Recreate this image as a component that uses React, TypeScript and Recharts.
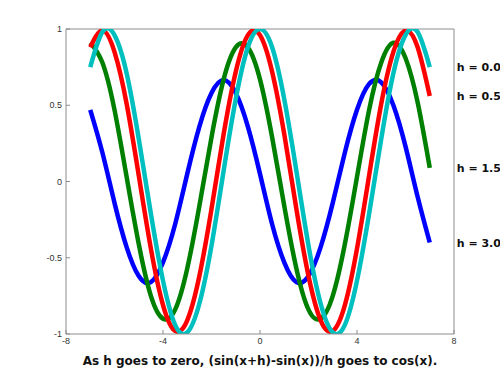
import { LineChart, Line, XAxis, YAxis, ReferenceLine } from "recharts";

const xs = [
  -7, -6.5, -6, -5.5, -5, -4.5, -4, -3.5, -3, -2.5, -2, -1.5, -1, -0.5, 0,
  0.5, 1, 1.5, 2, 2.5, 3, 3.5, 4, 4.5, 5, 5.5, 6, 6.5, 7,
];

// h ~ 0 (cyan)
const h001 = [
  0.75, 0.98, 0.96, 0.71, 0.28, -0.21, -0.65, -0.94, -0.99, -0.8, -0.42, 0.07,
  0.54, 0.88, 1.0, 0.88, 0.54, 0.07, -0.42, -0.8, -0.99, -0.94, -0.65, -0.21,
  0.28, 0.71, 0.96, 0.98, 0.75,
];
// h = 0.5 (red)
const h05 = [
  0.88, 0.99, 0.85, 0.51, 0.04, -0.44, -0.81, -0.98, -0.91, -0.62, -0.18, 0.31,
  0.72, 0.96, 0.96, 0.72, 0.31, -0.18, -0.62, -0.91, -0.98, -0.81, -0.44, 0.04,
  0.51, 0.85, 0.99, 0.88, 0.56,
];
// h = 1.5 (green)
const h15 = [
  0.91, 0.78, 0.47, 0.03, -0.41, -0.75, -0.9, -0.84, -0.57, -0.16, 0.29, 0.67,
  0.88, 0.88, 0.67, 0.29, -0.16, -0.57, -0.84, -0.9, -0.75, -0.41, 0.03, 0.47,
  0.78, 0.91, 0.81, 0.52, 0.09,
];
// h = 3.0 (blue)
const h30 = [
  0.47, 0.19, -0.14, -0.43, -0.62, -0.66, -0.53, -0.28, 0.05, 0.36, 0.58, 0.665,
  0.58, 0.36, 0.05, -0.28, -0.53, -0.66, -0.62, -0.43, -0.14, 0.19, 0.47, 0.64,
  0.65, 0.5, 0.23, -0.1, -0.4,
];

const xTicks = [-8, -4, 0, 4, 8];
const yTicks = [-1, -0.5, 0, 0.5, 1];
const caption = "As h goes to zero, (sin(x+h)-sin(x))/h goes to cos(x).";

const series = [
  { key: "h30", values: h30, color: "#0000ff", label: "h = 3.0" },
  { key: "h15", values: h15, color: "#008000", label: "h = 1.5" },
  { key: "h05", values: h05, color: "#ff0000", label: "h = 0.5" },
  { key: "h001", values: h001, color: "#00bfbf", label: "h = 0.0" },
];

const data = xs.map((x, i) => {
  const row: Record<string, number> = { x };
  series.forEach((s) => (row[s.key] = s.values[i]));
  return row;
});

const last = xs.length - 1;
const axisColor = "#8c8c8c";
const tickStyle = { fontSize: 9, fill: "#333", fontFamily: "Liberation Sans, Arial, sans-serif" };

const endLabel = (text: string) => (props: any) => {
  if (props.index !== last) return null;
  return (
    <text
      x={props.x + 27}
      y={props.y + 4}
      fontSize={11}
      fontWeight="bold"
      fontFamily="DejaVu Sans, sans-serif"
      fill="#111"
    >
      {text}
    </text>
  );
};

export default function App() {
  return (
    <div style={{ position: "absolute", left: 0, top: 0, width: 500, height: 375, background: "#fff", overflow: "hidden" }}>
      <LineChart
        width={500}
        height={375}
        data={data}
        margin={{ top: 29, right: 46, bottom: 0, left: 26 }}
      >
        <XAxis
          dataKey="x"
          type="number"
          domain={[-8, 8]}
          ticks={xTicks}
          height={41}
          stroke={axisColor}
          tickSize={-4}
          tickMargin={8}
          tick={tickStyle}
        />
        <YAxis
          type="number"
          domain={[-1, 1]}
          ticks={yTicks}
          width={40}
          stroke={axisColor}
          tickSize={-4}
          tickMargin={8}
          tick={tickStyle}
          allowDataOverflow
        />
        <ReferenceLine y={1} stroke={axisColor} />
        <ReferenceLine x={8} stroke={axisColor} />
        {series.map((s) => (
          <Line
            key={s.key}
            dataKey={s.key}
            type="natural"
            stroke={s.color}
            strokeWidth={4.5}
            dot={false}
            isAnimationActive={false}
            label={endLabel(s.label)}
          />
        ))}
      </LineChart>
      <div
        style={{
          position: "absolute",
          left: 20,
          top: 354,
          width: 480,
          textAlign: "center",
          fontFamily: "DejaVu Sans, sans-serif",
          fontWeight: "bold",
          fontSize: 12,
          color: "#111",
        }}
      >
        {caption}
      </div>
    </div>
  );
}
